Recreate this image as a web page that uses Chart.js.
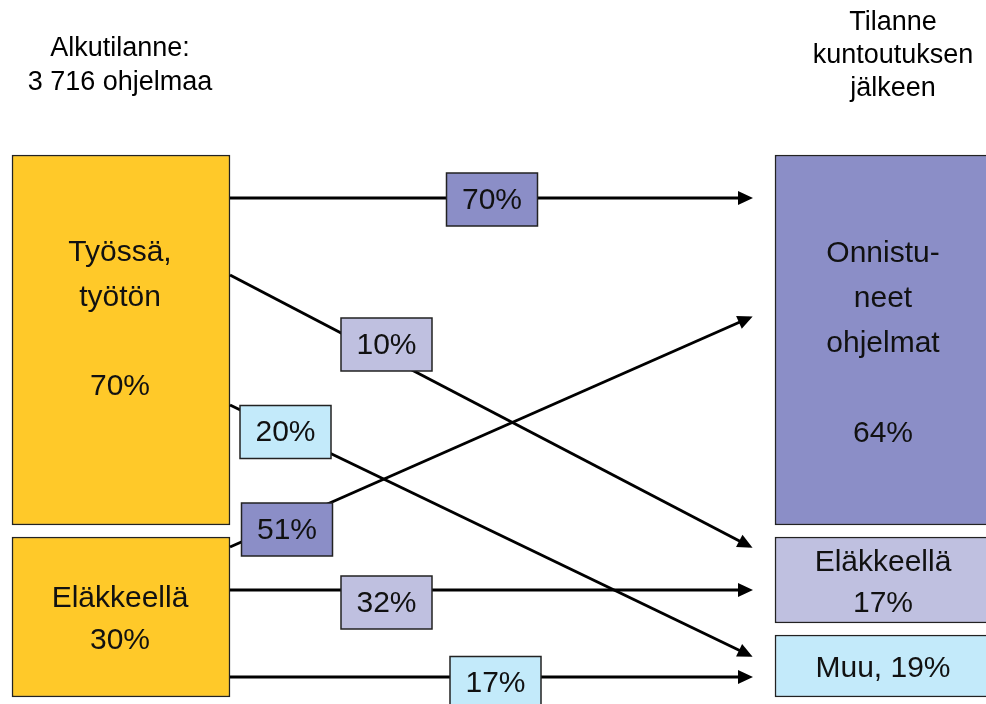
<!DOCTYPE html>
<html><head><meta charset="utf-8">
<script src="https://cdn.jsdelivr.net/npm/chart.js@4/dist/chart.umd.min.js"></script>
<style>html,body{margin:0;padding:0;background:#fff}#wrap{width:986px;height:704px;position:relative}</style>
</head><body><div id="wrap"><canvas id="c"></canvas></div>
<script>
// ---- data ----
const startTitle = ["Alkutilanne:", "3 716 ohjelmaa"];
const endTitle = ["Tilanne", "kuntoutuksen", "jälkeen"];
const startLines = [["Työssä,", "työtön", ""], ["Eläkkeellä"]];
const startShares = [70, 30];
const endLines = [["Onnistu-", "neet", "ohjelmat", ""], ["Eläkkeellä"], []];
const endPrefix = ["", "", "Muu, "];
const endShares = [64, 17, 19];
const flowFrom = [0, 0, 0, 1, 1, 1];
const flowTo = [0, 1, 2, 0, 1, 2];
const flowShares = [70, 10, 20, 51, 32, 17];

// ---- layout / style ----
const startColor = "#FFC929";
const endColors = ["#8B8EC7", "#BFC0E0", "#C3EAFA"];
const colStart = { x0: 12, x1: 230 };
const colEnd = { x0: 775, x1: 1005 };
const startBoxY = [[155, 525], [537, 697]];
const endBoxY = [[155, 525], [537, 623], [635, 697]];
const startText = [{ y: 253, gap: 44.5 }, { y: 599, gap: 42 }];
const endText = [{ y: 254, gap: 45 }, { y: 563, gap: 41 }, { y: 669, gap: 0 }];
const flowStartY = [198, 275, 405, 547, 590, 677];
const flowEndY = [198, 546, 655, 318, 590, 677];
const arrowTipX = 753;
const flowLabelPos = [[492, 199.5], [386.5, 344.5], [285.5, 432], [287, 529.5], [386.5, 602.5], [495.5, 683]];
const flowLabelSize = [91, 53];
const FONT = '"Liberation Sans", Arial, sans-serif';

const startData = startBoxY.map(b => ({ x: (colStart.x0 + colStart.x1) / 2, y: b }));
const endData = endBoxY.map(b => ({ x: (colEnd.x0 + colEnd.x1) / 2, y: b }));

const lineSets = flowShares.map((v, i) => ({
  type: 'line',
  data: [{ x: colStart.x1, y: flowStartY[i] }, { x: arrowTipX - 4, y: flowEndY[i] }],
  borderColor: '#000', borderWidth: 3, pointRadius: 0, fill: false, tension: 0, order: 1
}));

const diagramPlugin = {
  id: 'diagram',
  afterDatasetsDraw(chart) {
    const ctx = chart.ctx;
    const xs = chart.scales.x, ys = chart.scales.y;
    ctx.save();
    // arrowheads
    chart.data.datasets.forEach((ds, di) => {
      if (ds.type !== 'line') return;
      const pts = chart.getDatasetMeta(di).data;
      const a = pts[0], b = pts[1];
      const dx = b.x - a.x, dy = b.y - a.y, len = Math.hypot(dx, dy);
      const ux = dx / len, uy = dy / len;
      const tipX = b.x + ux * 4, tipY = b.y + uy * 4;
      const L = 15, W = 7;
      const bx = tipX - ux * L, by = tipY - uy * L;
      ctx.beginPath();
      ctx.moveTo(tipX, tipY);
      ctx.lineTo(bx - uy * W, by + ux * W);
      ctx.lineTo(bx + uy * W, by - ux * W);
      ctx.closePath();
      ctx.fillStyle = '#000';
      ctx.fill();
    });
    // flow labels
    ctx.textAlign = 'center';
    ctx.textBaseline = 'middle';
    flowShares.forEach((v, i) => {
      const cx = xs.getPixelForValue(flowLabelPos[i][0]);
      const cy = ys.getPixelForValue(flowLabelPos[i][1]);
      const w = flowLabelSize[0], h = flowLabelSize[1];
      ctx.fillStyle = endColors[flowTo[i]];
      ctx.fillRect(cx - w / 2, cy - h / 2, w, h);
      ctx.strokeStyle = '#222';
      ctx.lineWidth = 1.5;
      ctx.strokeRect(cx - w / 2, cy - h / 2, w, h);
      ctx.fillStyle = '#111';
      ctx.font = '30px ' + FONT;
      ctx.fillText(v + '%', cx, cy + 1);
    });
    // box texts
    ctx.font = '30px ' + FONT;
    ctx.fillStyle = '#111';
    startLines.forEach((lines, i) => {
      const all = lines.concat([startShares[i] + '%']);
      const cx = xs.getPixelForValue(120);
      all.forEach((t, k) => ctx.fillText(t, cx, ys.getPixelForValue(startText[i].y + k * startText[i].gap)));
    });
    endLines.forEach((lines, i) => {
      const all = lines.concat([endPrefix[i] + endShares[i] + '%']);
      const cx = xs.getPixelForValue(883);
      all.forEach((t, k) => ctx.fillText(t, cx, ys.getPixelForValue(endText[i].y + k * endText[i].gap)));
    });
    // titles
    ctx.font = '27px ' + FONT;
    ctx.fillStyle = '#000';
    startTitle.forEach((t, k) => ctx.fillText(t, xs.getPixelForValue(120), ys.getPixelForValue(49 + k * 34)));
    endTitle.forEach((t, k) => ctx.fillText(t, xs.getPixelForValue(893), ys.getPixelForValue(23 + k * 33)));
    ctx.restore();
  }
};

new Chart(document.getElementById('c'), {
  type: 'bar',
  data: {
    datasets: [
      ...lineSets,
      {
        type: 'bar', data: startData, backgroundColor: startColor,
        borderColor: '#222', borderWidth: 1.5, borderSkipped: false,
        barThickness: colStart.x1 - colStart.x0, grouped: false, order: 5
      },
      {
        type: 'bar', data: endData, backgroundColor: endColors,
        borderColor: '#222', borderWidth: 1.5, borderSkipped: false,
        barThickness: colEnd.x1 - colEnd.x0, grouped: false, order: 5
      }
    ]
  },
  options: {
    responsive: true,
    maintainAspectRatio: false,
    animation: false,
    layout: { padding: 0 },
    plugins: { legend: { display: false }, tooltip: { enabled: false } },
    events: [],
    scales: {
      x: { type: 'linear', min: 0, max: 986, offset: false, display: false },
      y: { type: 'linear', min: 0, max: 704, reverse: true, offset: false, display: false }
    }
  },
  plugins: [diagramPlugin]
});
</script></body></html>
